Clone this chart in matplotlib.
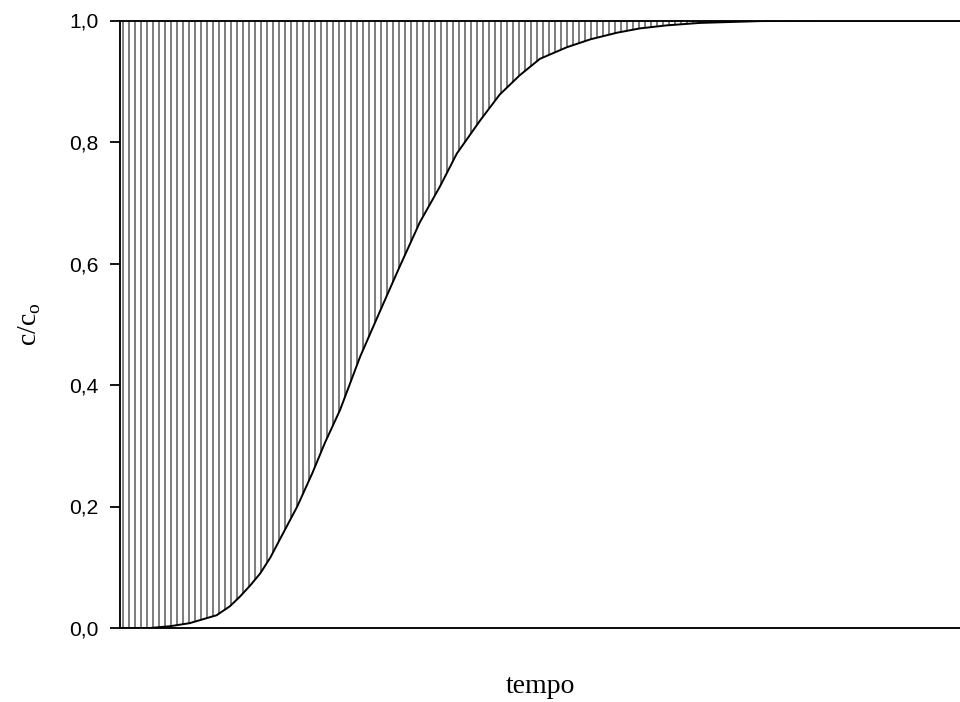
# curva de ruptura (c/co em função do tempo), área acima da curva hachurada

import matplotlib
matplotlib.use('Agg')
import matplotlib.pyplot as plt

plt.rcParams['font.family'] = ['Liberation Sans', 'DejaVu Sans']
plt.rcParams['mathtext.fontset'] = 'custom'
plt.rcParams['mathtext.rm'] = 'Liberation Serif'
plt.rcParams['hatch.color'] = '#808080'
plt.rcParams['hatch.linewidth'] = 1.35

# valores (tempo em unidades arbitrárias, 0 a 100)
tempo = [0, 3.6, 6.0, 8.3, 11.5, 13.1, 14.3, 15.5, 16.7, 17.9, 19.0, 21.1,
         22.9, 24.4, 26.2, 28.6, 31.0, 33.3, 35.7, 38.1, 40.1, 42.9, 45.2,
         47.6, 50.0, 53.2, 56.0, 59.2, 61.9, 65.1, 69.0, 76.2, 83.3, 100]
conc = [0.0, 0.0, 0.003, 0.008, 0.021, 0.036, 0.052, 0.070, 0.090, 0.116,
        0.145, 0.200, 0.255, 0.305, 0.359, 0.447, 0.523, 0.595, 0.668, 0.727,
        0.781, 0.836, 0.878, 0.910, 0.937, 0.956, 0.969, 0.980, 0.987, 0.992,
        0.996, 0.999, 1.0, 1.0]

yticks = [0.0, 0.2, 0.4, 0.6, 0.8, 1.0]
ytick_labels = ['0,0', '0,2', '0,4', '0,6', '0,8', '1,0']

fig = plt.figure(figsize=(960 / 108, 702 / 108), dpi=108)
ax = fig.add_axes([0.125, 1 - 628 / 702, 0.875, 607.5 / 702])

# área hachurada entre a curva e c/co = 1
ax.fill_between(tempo, conc, 1.0, facecolor='none', edgecolor='#808080',
                hatch='|||', linewidth=0)
ax.plot(tempo, conc, color='black', linewidth=1.3)

ax.set_xlim(0, 100)
ax.set_ylim(0, 1.0)

ax.spines['right'].set_visible(False)
for s in ['left', 'bottom', 'top']:
    ax.spines[s].set_linewidth(1.25)
    ax.spines[s].set_color('black')

ax.set_xticks([])
ax.set_yticks(yticks)
ax.set_yticklabels(ytick_labels, fontsize=14)
ax.tick_params(axis='y', direction='out', length=6.7, width=1.2, pad=7.5)

ax.set_xlabel('tempo', family='Liberation Serif', fontsize=18.5)
ax.xaxis.set_label_coords(0.5, -0.075)
ax.set_ylabel(r'$\mathrm{c/c}_\mathrm{o}$', family='Liberation Serif', fontsize=18.5)
ax.yaxis.set_label_coords(-0.092, 0.5)

fig.savefig('out.png', dpi=108)
